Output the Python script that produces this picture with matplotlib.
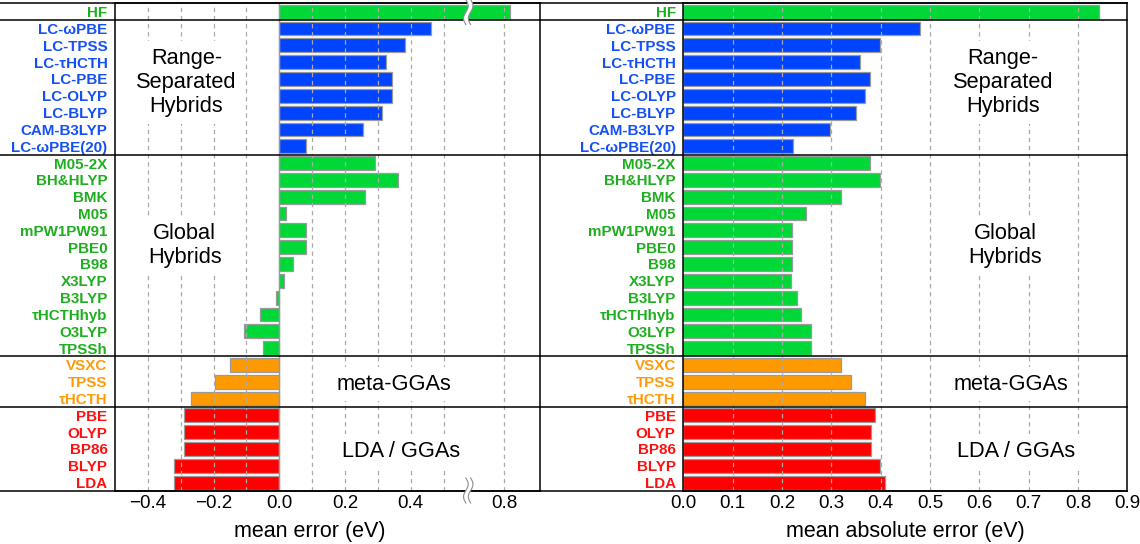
import numpy as np
import matplotlib
matplotlib.use('Agg')
import matplotlib.pyplot as plt

plt.rcParams['font.family'] = ['Liberation Sans', 'DejaVu Sans']

# dados (eV)
methods = ['HF',
           'LC-ωPBE', 'LC-TPSS', 'LC-τHCTH', 'LC-PBE', 'LC-OLYP', 'LC-BLYP',
           'CAM-B3LYP', 'LC-ωPBE(20)',
           'M05-2X', 'BH&HLYP', 'BMK', 'M05', 'mPW1PW91', 'PBE0', 'B98',
           'X3LYP', 'B3LYP', 'τHCTHhyb', 'O3LYP', 'TPSSh',
           'VSXC', 'TPSS', 'τHCTH',
           'PBE', 'OLYP', 'BP86', 'BLYP', 'LDA']
groups = (['hf'] + ['rsh'] * 8 + ['global'] * 12 + ['meta'] * 3 + ['gga'] * 5)

mean_err = [0.817,
            0.463, 0.383, 0.325, 0.343, 0.343, 0.312, 0.254, 0.081,
            0.292, 0.362, 0.262, 0.020, 0.081, 0.081, 0.041, 0.013,
            -0.010, -0.058, -0.108, -0.050,
            -0.149, -0.197, -0.269,
            -0.290, -0.290, -0.290, -0.320, -0.320]
mean_abs_err = [0.842,
                0.479, 0.399, 0.358, 0.379, 0.369, 0.349, 0.298, 0.222,
                0.379, 0.399, 0.320, 0.248, 0.221, 0.221, 0.221, 0.218,
                0.230, 0.238, 0.259, 0.259,
                0.320, 0.339, 0.368,
                0.388, 0.380, 0.380, 0.398, 0.408]

group_titles = ['Range-\nSeparated\nHybrids', 'Global\nHybrids', 'meta-GGAs', 'LDA / GGAs']
title_rows = [4.2, 13.9, 22.15, 26.15]
title_x_me = [-0.283, -0.288, 0.349, 0.369]
title_x_mae = [0.648, 0.652, 0.664, 0.674]
separators = [-0.5, 0.5, 8.5, 20.5, 23.5, 28.5]

me_ticks = [-0.4, -0.2, 0.0, 0.2, 0.4, 0.8]
me_ticklabels = ['\u22120.4', '\u22120.2', '0.0', '0.2', '0.4', '0.8']
me_grid = [-0.4, -0.3, -0.2, -0.1, 0.1, 0.2, 0.3, 0.4, 0.5, 0.8]
mae_ticks = [0.0, 0.1, 0.2, 0.3, 0.4, 0.5, 0.6, 0.7, 0.8, 0.9]
mae_grid = [0.1, 0.2, 0.3, 0.4, 0.5, 0.6, 0.7, 0.8]

bar_colors = {'hf': '#00d838', 'rsh': '#0044ff', 'global': '#00d838',
              'meta': '#ff9900', 'gga': '#ff0000'}
label_colors = {'hf': '#1fae1f', 'rsh': '#1450f5', 'global': '#1fae1f',
                'meta': '#ff9a0a', 'gga': '#ff1010'}

# quebra do eixo do erro médio
BRK_LO, BRK_HI = 0.575, 0.69


def fwd(x):
    return np.interp(x, [-10, BRK_LO, BRK_HI, 10],
                     [-10, BRK_LO, BRK_LO + 1e-4, 10 - (BRK_HI - BRK_LO) + 1e-4])


def inv(x):
    return np.interp(x, [-10, BRK_LO, BRK_LO + 1e-4, 10 - (BRK_HI - BRK_LO) + 1e-4],
                     [-10, BRK_LO, BRK_HI, 10])


fig = plt.figure(figsize=(11.4, 5.44), dpi=100)
ax1 = fig.add_axes([0.1009, 0.0974, 0.3730, 0.8965])
ax2 = fig.add_axes([0.5994, 0.0974, 0.3895, 0.8965])

ax1.set_xscale('function', functions=(fwd, inv))
ax1.set_xlim(-0.5, 0.909)
ax2.set_xlim(0, 0.9)

rows = np.arange(len(methods))
colors = [bar_colors[g] for g in groups]


def draw_break(ax, xc, yc, height_px):
    pos = ax.get_position()
    wpx = pos.width * fig.get_figwidth() * fig.dpi
    hpx = pos.height * fig.get_figheight() * fig.dpi
    t = np.linspace(-1, 1, 60)
    yy = yc + t * height_px / 2 / hpx
    wig = 2.3 * np.sin(np.pi * t) / wpx
    gap = 2.4 / wpx
    xl = xc - gap + wig
    xr = xc + gap + wig
    ax.fill(np.r_[xl, xr[::-1]], np.r_[yy, yy[::-1]], color='white',
            transform=ax.transAxes, clip_on=False, zorder=6, lw=0)
    for xx in (xl, xr):
        ax.plot(xx, yy, color='#8c8c8c', lw=0.8, transform=ax.transAxes,
                clip_on=False, zorder=7)


for ax, vals, ticks, ticklabels, grid, tx, xlab, xl in [
        (ax1, mean_err, me_ticks, me_ticklabels, me_grid, title_x_me, 'mean error (eV)', -0.2704),
        (ax2, mean_abs_err, mae_ticks, ['%.1f' % t for t in mae_ticks], mae_grid, title_x_mae,
         'mean absolute error (eV)', -0.3205)]:
    ax.barh(rows, vals, height=0.82, color=colors, edgecolor='#9a9a9a', linewidth=0.9, zorder=1)
    ax.set_ylim(len(methods) - 0.5, -0.5)

    ax.set_xticks(ticks)
    ax.set_xticklabels(ticklabels, fontsize=13.5)
    for g in grid:
        ax.axvline(g, color='#aaaaaa', lw=0.9, ls=(0, (3.5, 3)), zorder=2)

    ax.set_yticks(rows)
    ax.set_yticklabels(methods, fontsize=10.9, fontweight='bold')
    for lab, g in zip(ax.get_yticklabels(), groups):
        lab.set_color(label_colors[g])
    ax.tick_params(axis='both', length=0)
    ax.tick_params(axis='x', pad=3)
    ax.tick_params(axis='y', pad=5.5)

    for s in ax.spines.values():
        s.set_linewidth(1.1)
        s.set_zorder(4)

    for yb in separators:
        ax.plot([xl, 1], [yb, yb], transform=ax.get_yaxis_transform(),
                color='black', lw=1.1, clip_on=False, zorder=4)

    for title, yr, xt in zip(group_titles, title_rows, tx):
        ax.text(xt, yr, title, ha='center', va='center', fontsize=15.7, linespacing=1.2,
                bbox=dict(boxstyle='square,pad=0.3', facecolor='white', edgecolor='none'),
                zorder=5)

    ax.set_xlabel(xlab, fontsize=15.5, va='center')

ax1.axvline(0, color='#9a9a9a', lw=1.0, zorder=3)
ax1.xaxis.set_label_coords(0.4585, -0.082)
ax2.xaxis.set_label_coords(0.5, -0.082)

# marcas de quebra no eixo do erro médio
xc = (fwd(BRK_LO) - fwd(-0.5)) / (fwd(0.909) - fwd(-0.5))
draw_break(ax1, xc, 0.982, 25)
draw_break(ax1, xc, 0.001, 25)

plt.savefig('out.png', dpi=100)
